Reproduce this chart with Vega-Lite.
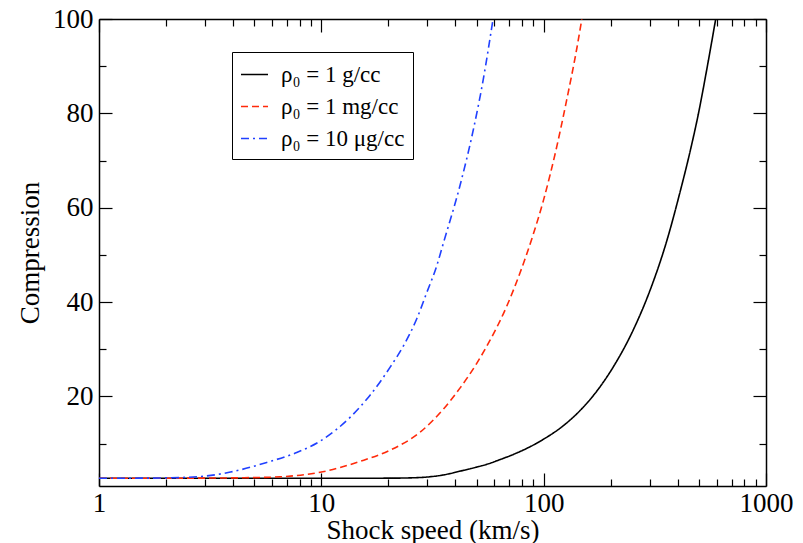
{
  "$schema": "https://vega.github.io/schema/vega-lite/v6.json",
  "width": 667,
  "height": 467,
  "autosize": "none",
  "padding": {"left": 99, "top": 19, "right": 37, "bottom": 57},
  "background": "white",
  "config": {
    "font": "Liberation Serif",
    "view": {"stroke": null},
    "axis": {
      "labelFont": "Liberation Serif",
      "titleFont": "Liberation Serif",
      "labelFontSize": 27,
      "titleFontSize": 27,
      "titleFontWeight": "normal",
      "labelColor": "black",
      "titleColor": "black",
      "domainColor": "black",
      "tickColor": "black",
      "domainWidth": 1.5,
      "tickWidth": 1.2,
      "grid": false,
      "labelOverlap": false,
      "labelFlush": false,
      "labelBound": false
    }
  },
  "data": {
    "values": [
      {"s": "ρ₀ = 1 g/cc", "v": 1, "c": 2.65},
      {"s": "ρ₀ = 1 g/cc", "v": 10, "c": 2.65},
      {"s": "ρ₀ = 1 g/cc", "v": 20, "c": 2.66},
      {"s": "ρ₀ = 1 g/cc", "v": 25, "c": 2.72},
      {"s": "ρ₀ = 1 g/cc", "v": 29.8, "c": 2.9},
      {"s": "ρ₀ = 1 g/cc", "v": 35, "c": 3.3},
      {"s": "ρ₀ = 1 g/cc", "v": 42.1, "c": 4.15},
      {"s": "ρ₀ = 1 g/cc", "v": 50, "c": 5.0},
      {"s": "ρ₀ = 1 g/cc", "v": 55.5, "c": 5.6},
      {"s": "ρ₀ = 1 g/cc", "v": 63.7, "c": 6.6},
      {"s": "ρ₀ = 1 g/cc", "v": 73.1, "c": 7.7},
      {"s": "ρ₀ = 1 g/cc", "v": 85, "c": 9.1},
      {"s": "ρ₀ = 1 g/cc", "v": 99.7, "c": 10.9},
      {"s": "ρ₀ = 1 g/cc", "v": 122.7, "c": 13.8},
      {"s": "ρ₀ = 1 g/cc", "v": 145.8, "c": 17.0},
      {"s": "ρ₀ = 1 g/cc", "v": 173.3, "c": 21.1},
      {"s": "ρ₀ = 1 g/cc", "v": 206, "c": 26.3},
      {"s": "ρ₀ = 1 g/cc", "v": 253, "c": 34.1},
      {"s": "ρ₀ = 1 g/cc", "v": 301, "c": 42.5},
      {"s": "ρ₀ = 1 g/cc", "v": 357, "c": 52.8},
      {"s": "ρ₀ = 1 g/cc", "v": 411, "c": 63.4},
      {"s": "ρ₀ = 1 g/cc", "v": 456, "c": 72.0},
      {"s": "ρ₀ = 1 g/cc", "v": 497, "c": 80.0},
      {"s": "ρ₀ = 1 g/cc", "v": 542, "c": 89.4},
      {"s": "ρ₀ = 1 g/cc", "v": 594, "c": 100},
      {"s": "ρ₀ = 1 mg/cc", "v": 1, "c": 2.65},
      {"s": "ρ₀ = 1 mg/cc", "v": 2, "c": 2.65},
      {"s": "ρ₀ = 1 mg/cc", "v": 3, "c": 2.68},
      {"s": "ρ₀ = 1 mg/cc", "v": 4.5, "c": 2.75},
      {"s": "ρ₀ = 1 mg/cc", "v": 6.5, "c": 2.95},
      {"s": "ρ₀ = 1 mg/cc", "v": 9.87, "c": 3.9},
      {"s": "ρ₀ = 1 mg/cc", "v": 14.9, "c": 6.2},
      {"s": "ρ₀ = 1 mg/cc", "v": 20.4, "c": 8.6},
      {"s": "ρ₀ = 1 mg/cc", "v": 27.8, "c": 12.4},
      {"s": "ρ₀ = 1 mg/cc", "v": 35.4, "c": 17.3},
      {"s": "ρ₀ = 1 mg/cc", "v": 42.1, "c": 21.8},
      {"s": "ρ₀ = 1 mg/cc", "v": 50.0, "c": 27.0},
      {"s": "ρ₀ = 1 mg/cc", "v": 57.4, "c": 31.9},
      {"s": "ρ₀ = 1 mg/cc", "v": 68.2, "c": 39.1},
      {"s": "ρ₀ = 1 mg/cc", "v": 78.3, "c": 46.2},
      {"s": "ρ₀ = 1 mg/cc", "v": 89.0, "c": 53.8},
      {"s": "ρ₀ = 1 mg/cc", "v": 99.7, "c": 61.5},
      {"s": "ρ₀ = 1 mg/cc", "v": 114.6, "c": 73.0},
      {"s": "ρ₀ = 1 mg/cc", "v": 127, "c": 82.9},
      {"s": "ρ₀ = 1 mg/cc", "v": 141, "c": 93.8},
      {"s": "ρ₀ = 1 mg/cc", "v": 148.5, "c": 100},
      {"s": "ρ₀ = 10 μg/cc", "v": 1, "c": 2.65},
      {"s": "ρ₀ = 10 μg/cc", "v": 1.5, "c": 2.66},
      {"s": "ρ₀ = 10 μg/cc", "v": 2.0, "c": 2.72},
      {"s": "ρ₀ = 10 μg/cc", "v": 2.85, "c": 3.0},
      {"s": "ρ₀ = 10 μg/cc", "v": 3.9, "c": 3.95},
      {"s": "ρ₀ = 10 μg/cc", "v": 5.68, "c": 6.0},
      {"s": "ρ₀ = 10 μg/cc", "v": 7.75, "c": 8.1},
      {"s": "ρ₀ = 10 μg/cc", "v": 9.87, "c": 10.5},
      {"s": "ρ₀ = 10 μg/cc", "v": 13.5, "c": 15.6},
      {"s": "ρ₀ = 10 μg/cc", "v": 16.6, "c": 20.3},
      {"s": "ρ₀ = 10 μg/cc", "v": 20.4, "c": 26.2},
      {"s": "ρ₀ = 10 μg/cc", "v": 23.4, "c": 30.7},
      {"s": "ρ₀ = 10 μg/cc", "v": 26.9, "c": 36.5},
      {"s": "ρ₀ = 10 μg/cc", "v": 29.8, "c": 42.0},
      {"s": "ρ₀ = 10 μg/cc", "v": 33.0, "c": 47.6},
      {"s": "ρ₀ = 10 μg/cc", "v": 35.6, "c": 52.9},
      {"s": "ρ₀ = 10 μg/cc", "v": 42.1, "c": 64.8},
      {"s": "ρ₀ = 10 μg/cc", "v": 48.3, "c": 76.6},
      {"s": "ρ₀ = 10 μg/cc", "v": 53.5, "c": 87.2},
      {"s": "ρ₀ = 10 μg/cc", "v": 59.2, "c": 100}
    ]
  },
  "layer": [
    {
      "mark": {"type": "line", "strokeWidth": 1.6, "clip": true, "interpolate": "monotone"},
      "encoding": {
        "x": {
          "field": "v", "type": "quantitative",
          "scale": {"type": "log", "domain": [1, 1000], "nice": false},
          "axis": {
            "orient": "bottom",
            "values": [1,2,3,4,5,6,7,8,9,10,20,30,40,50,60,70,80,90,100,200,300,400,500,600,700,800,900,1000],
            "labelExpr": "(datum.value == 1 || datum.value == 10 || datum.value == 100 || datum.value == 1000) ? format(datum.value, 'd') : ''",
            "tickSize": {"condition": {"test": "datum.value == 1 || datum.value == 10 || datum.value == 100 || datum.value == 1000", "value": -13}, "value": -7},
            "labelPadding": 17,
            "title": "Shock speed (km/s)",
            "titleY": 52,
            "titleBaseline": "alphabetic"
          }
        },
        "y": {
          "field": "c", "type": "quantitative",
          "scale": {"domain": [1, 100], "zero": false, "nice": false},
          "axis": {
            "orient": "left",
            "values": [10,20,30,40,50,60,70,80,90,100],
            "labelExpr": "datum.value % 20 == 0 ? format(datum.value, 'd') : ''",
            "tickSize": {"condition": {"test": "datum.value % 20 == 0", "value": -13}, "value": -7},
            "labelPadding": 19,
            "title": "Compression",
            "titleX": -61,
            "titleBaseline": "alphabetic"
          }
        },
        "color": {
          "field": "s", "type": "nominal",
          "scale": {"domain": ["ρ₀ = 1 g/cc", "ρ₀ = 1 mg/cc", "ρ₀ = 10 μg/cc"], "range": ["#000000", "#ff2a0a", "#2040ff"]},
          "legend": {
            "title": null, "orient": "none", "legendX": 133, "legendY": 33,
            "symbolType": "stroke", "symbolSize": 729, "symbolStrokeWidth": 1.6,
            "labelFont": "Liberation Serif", "labelFontSize": 23, "labelColor": "black",
            "labelOffset": 12, "rowPadding": 5, "padding": 8,
            "strokeColor": "black", "fillColor": "white"
          }
        },
        "strokeDash": {
          "field": "s", "type": "nominal",
          "scale": {"domain": ["ρ₀ = 1 g/cc", "ρ₀ = 1 mg/cc", "ρ₀ = 10 μg/cc"], "range": [[1, 0], [7, 4], [8, 4, 2, 4]]},
          "legend": {
            "title": null, "orient": "none", "legendX": 133, "legendY": 33,
            "symbolType": "stroke", "symbolSize": 729, "symbolStrokeWidth": 1.6,
            "labelFont": "Liberation Serif", "labelFontSize": 23, "labelColor": "black",
            "labelOffset": 12, "rowPadding": 5, "padding": 8,
            "strokeColor": "black", "fillColor": "white"
          }
        }
      }
    },
    {
      "mark": {"type": "line", "opacity": 0},
      "encoding": {
        "x": {
          "field": "v", "type": "quantitative",
          "axis": {
            "orient": "top",
            "values": [1,2,3,4,5,6,7,8,9,10,20,30,40,50,60,70,80,90,100,200,300,400,500,600,700,800,900,1000],
            "labels": false,
            "title": null,
            "tickSize": {"condition": {"test": "datum.value == 1 || datum.value == 10 || datum.value == 100 || datum.value == 1000", "value": -13}, "value": -7}
          }
        },
        "y": {
          "field": "c", "type": "quantitative",
          "axis": {
            "orient": "right",
            "values": [10,20,30,40,50,60,70,80,90,100],
            "labels": false,
            "title": null,
            "tickSize": {"condition": {"test": "datum.value % 20 == 0", "value": -13}, "value": -7}
          }
        }
      }
    }
  ],
  "resolve": {"axis": {"x": "independent", "y": "independent"}}
}
